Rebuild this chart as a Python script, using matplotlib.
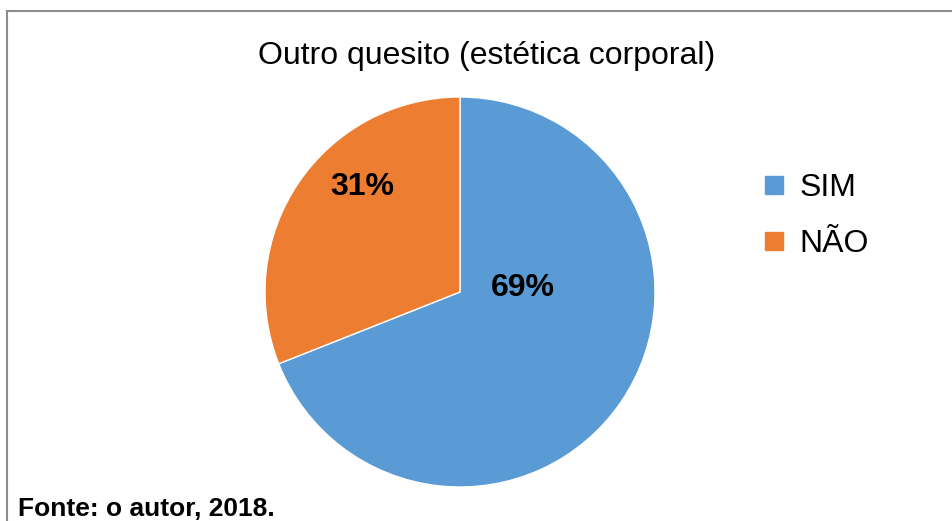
import matplotlib
matplotlib.use('Agg')
import matplotlib.pyplot as plt
from matplotlib.lines import Line2D
from matplotlib.patches import Rectangle

plt.rcParams['font.family'] = ['Liberation Sans', 'DejaVu Sans']

categories = ['SIM', 'NÃO']
values = [69, 31]
colors = ['#5B9BD5', '#ED7D31']
title = 'Outro quesito (estética corporal)'
source = 'Fonte: o autor, 2018.'

W, H = 953, 521
fig = plt.figure(figsize=(W / 100, H / 100), dpi=100)

# chart frame (only top and left edges visible in the crop)
fig.add_artist(Rectangle((7 / W, -0.2), 2, (H - 11) / H + 0.2, transform=fig.transFigure,
                         fill=False, edgecolor='#8c8c8c', lw=1.5))

# pie axes: center (460, 292), radius 195 px
ax = fig.add_axes([265 / W, (H - 487) / H, 390 / W, 390 / H])
wedges, _ = ax.pie(values, colors=colors, startangle=90, counterclock=False,
                   radius=1, wedgeprops=dict(edgecolor='white', linewidth=1))
ax.set_xlim(-1, 1)
ax.set_ylim(-1, 1)
ax.set_aspect('equal')
ax.axis('off')

# percentage labels (Excel "best fit" positions)
label_pos = [(0.32, 0.02), (-0.50, 0.54)]
for v, (x, y) in zip(values, label_pos):
    ax.text(x, y, f'{v}%', ha='center', va='center', fontsize=23, fontweight='bold')

fig.text(487 / W, (H - 64) / H, title, ha='center', va='baseline', fontsize=23)

handles = [Line2D([], [], marker='s', linestyle='none', markersize=13.5,
                  markerfacecolor=c, markeredgecolor=c) for c in colors]
fig.legend(handles, categories, loc='center left', bbox_to_anchor=(761 / W, (H - 216) / H),
           frameon=False, fontsize=23, handlelength=0.8, handletextpad=0.4,
           labelspacing=0.83, borderpad=0, borderaxespad=0)

fig.text(18 / W, 5 / H, source, ha='left', va='baseline', fontsize=19, fontweight='bold')

fig.savefig('out.png', dpi=100)
